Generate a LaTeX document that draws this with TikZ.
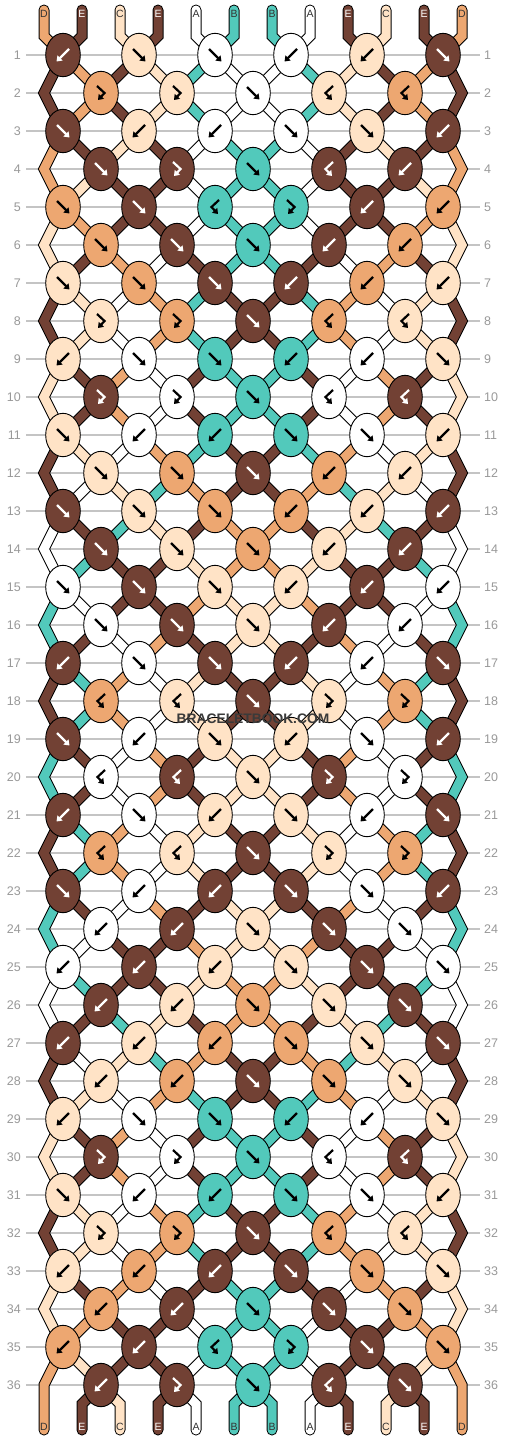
\documentclass[tikz,border=0pt]{standalone}
\usepackage{fontspec}
\setmainfont{Liberation Sans}
\usetikzlibrary{arrows.meta,shapes.geometric}
\definecolor{cA}{HTML}{FFFFFF}
\definecolor{cB}{HTML}{52C9BB}
\definecolor{cC}{HTML}{FFE3C6}
\definecolor{cD}{HTML}{EDA771}
\definecolor{cE}{HTML}{724134}
\definecolor{rowgray}{HTML}{999999}
\definecolor{linegray}{HTML}{C4C4C4}
\definecolor{lbldark}{HTML}{333333}
\definecolor{wmgray}{HTML}{3A3A3A}

\newcommand\defrow[2]{\foreach \myc [count=\myp] in {#2}{\expandafter\xdef\csname s#1-\myp\endcsname{\myc}}}
\newcommand\defknots[2]{\foreach \myc [count=\myp] in {#2}{\expandafter\xdef\csname k#1-\myp\endcsname{\myc}}}

\defrow{0}{D,E,C,E,A,B,B,A,E,C,E,D}
\defrow{1}{E,D,E,C,B,A,A,B,C,E,D,E}
\defrow{2}{E,D,E,C,B,A,A,B,C,E,D,E}
\defrow{3}{D,E,C,E,A,B,B,A,E,C,E,D}
\defrow{4}{D,C,E,E,A,B,B,A,E,E,C,D}
\defrow{5}{C,D,E,E,A,B,B,A,E,E,D,C}
\defrow{6}{C,E,D,A,E,B,B,E,A,D,E,C}
\defrow{7}{E,C,A,D,B,E,E,B,D,A,C,E}
\defrow{8}{E,C,A,D,B,E,E,B,D,A,C,E}
\defrow{9}{C,E,D,A,E,B,B,E,A,D,E,C}
\defrow{10}{C,E,D,A,E,B,B,E,A,D,E,C}
\defrow{11}{E,C,A,D,B,E,E,B,D,A,C,E}
\defrow{12}{E,A,C,B,D,E,E,D,B,C,A,E}
\defrow{13}{A,E,B,C,E,D,D,E,C,B,E,A}
\defrow{14}{A,B,E,E,C,D,D,C,E,E,B,A}
\defrow{15}{B,A,E,E,D,C,C,D,E,E,A,B}
\defrow{16}{B,E,A,D,E,C,C,E,D,A,E,B}
\defrow{17}{E,B,D,A,C,E,E,C,A,D,B,E}
\defrow{18}{E,B,D,A,C,E,E,C,A,D,B,E}
\defrow{19}{B,E,A,D,E,C,C,E,D,A,E,B}
\defrow{20}{B,E,A,D,E,C,C,E,D,A,E,B}
\defrow{21}{E,B,D,A,C,E,E,C,A,D,B,E}
\defrow{22}{E,B,D,A,C,E,E,C,A,D,B,E}
\defrow{23}{B,E,A,D,E,C,C,E,D,A,E,B}
\defrow{24}{B,A,E,E,D,C,C,D,E,E,A,B}
\defrow{25}{A,B,E,E,C,D,D,C,E,E,B,A}
\defrow{26}{A,E,B,C,E,D,D,E,C,B,E,A}
\defrow{27}{E,A,C,B,D,E,E,D,B,C,A,E}
\defrow{28}{E,C,A,D,B,E,E,B,D,A,C,E}
\defrow{29}{C,E,D,A,E,B,B,E,A,D,E,C}
\defrow{30}{C,E,D,A,E,B,B,E,A,D,E,C}
\defrow{31}{E,C,A,D,B,E,E,B,D,A,C,E}
\defrow{32}{E,C,A,D,B,E,E,B,D,A,C,E}
\defrow{33}{C,E,D,A,E,B,B,E,A,D,E,C}
\defrow{34}{C,D,E,E,A,B,B,A,E,E,D,C}
\defrow{35}{D,C,E,E,A,B,B,A,E,E,C,D}
\defrow{36}{D,E,C,E,A,B,B,A,E,C,E,D}

% knot types: 1 forward, 2 backward, 3 forward-backward, 4 backward-forward
\defknots{1}{2,1,1,2,2,1}
\defknots{2}{3,3,1,4,4}
\defknots{3}{1,2,2,1,1,2}
\defknots{4}{1,3,1,4,2}
\defknots{5}{1,1,4,3,2,2}
\defknots{6}{1,1,1,2,2}
\defknots{7}{1,1,1,2,2,2}
\defknots{8}{3,3,1,4,4}
\defknots{9}{2,1,1,2,2,1}
\defknots{10}{3,3,1,4,4}
\defknots{11}{1,2,2,1,1,2}
\defknots{12}{1,1,1,2,2}
\defknots{13}{1,1,1,2,2,2}
\defknots{14}{1,1,1,2,2}
\defknots{15}{1,1,1,2,2,2}
\defknots{16}{1,1,1,2,2}
\defknots{17}{2,1,1,2,2,1}
\defknots{18}{4,4,1,3,3}
\defknots{19}{1,2,1,2,1,2}
\defknots{20}{4,4,1,3,3}
\defknots{21}{2,1,2,1,2,1}
\defknots{22}{4,4,1,3,3}
\defknots{23}{1,2,2,1,1,2}
\defknots{24}{2,2,1,1,1}
\defknots{25}{2,2,2,1,1,1}
\defknots{26}{2,2,1,1,1}
\defknots{27}{2,2,2,1,1,1}
\defknots{28}{2,2,1,1,1}
\defknots{29}{2,1,1,2,2,1}
\defknots{30}{3,3,1,4,4}
\defknots{31}{1,2,2,1,1,2}
\defknots{32}{3,3,1,4,4}
\defknots{33}{2,2,2,1,1,1}
\defknots{34}{2,2,1,1,1}
\defknots{35}{2,2,4,3,1,1}
\defknots{36}{2,3,1,4,1}

\newcommand\drawsegs[1]{%
 \foreach \PP in {1,...,12}{%
   \edef\col{c\csname s0-\PP\endcsname}%
   \draw[seg#1=\col] (Tt-\PP) -- (T-\PP) -- (P-1-\PP);
 }%
 \foreach \RR in {1,...,36}{%
  \foreach \PP in {1,...,12}{%
   \pgfmathtruncatemacro\RA{\RR+1}%
   \pgfmathtruncatemacro\RB{\RR+2}%
   \edef\col{c\csname s\RR-\PP\endcsname}%
   \ifnum\PP=1 \def\isedge{1}\else\ifnum\PP=12 \def\isedge{1}\else\def\isedge{0}\fi\fi
   \ifnum\isedge=1
     \ifodd\RR
       \ifnum\RR=35
         \draw[seg#1=\col] (P-\RR-\PP) -- (P-\RA-\PP) -- (Bb-\PP);
       \else
         \draw[seg#1=\col] (P-\RR-\PP) -- (P-\RA-\PP) -- (P-\RB-\PP);
       \fi
     \fi
   \else
     \ifnum\RR=36
       \draw[seg#1=\col] (P-\RR-\PP) -- (B-\PP) -- (Bb-\PP);
     \else
       \draw[seg#1=\col] (P-\RR-\PP) -- (P-\RA-\PP);
     \fi
   \fi
  }}}

\begin{document}
\begin{tikzpicture}[x=1pt,y=-1pt,
  seg0/.style={line width=11pt,draw=black,line cap=round,line join=miter},
  seg1/.style={line width=9pt,draw=#1,line cap=round,line join=miter},
  knot/.style={ellipse,draw=black,line width=0.9pt,minimum width=34.6pt,minimum height=43.4pt,inner sep=0pt},
  arr/.style={line width=2.2pt,-{Triangle[length=5pt,width=7pt]}},
  rowlbl/.style={text=rowgray,font=\fontsize{12.5}{14}\selectfont,inner sep=0pt},
  strlbl/.style={font=\fontsize{10.5}{12}\selectfont,inner sep=0pt}
]
\useasboundingbox (0,0) rectangle (506,1440);
\fill[white] (0,0) rectangle (506,1440);

% string positions
\foreach \RR in {1,...,36}{
  \pgfmathsetmacro\yy{55+38*(\RR-1)}
  \foreach \PP in {1,...,12}{
    \ifodd\RR
      \pgfmathsetmacro\xx{63+76*floor((\PP-1)/2)}
    \else
      \ifnum\PP=1 \def\xx{44}\else\ifnum\PP=12 \def\xx{462}\else
        \pgfmathsetmacro\xx{25+76*floor(\PP/2)}\fi\fi
    \fi
    \coordinate (P-\RR-\PP) at (\xx,\yy);
  }
}
\foreach \PP in {1,...,12}{
  \pgfmathsetmacro\xx{44+38*(\PP-1)}
  \coordinate (Tt-\PP) at (\xx,10);
  \coordinate (T-\PP) at (\xx,36);
  \coordinate (B-\PP) at (\xx,1404);
  \coordinate (Bb-\PP) at (\xx,1430);
}

% row guide lines and numbers
\foreach \RR in {1,...,36}{
  \pgfmathsetmacro\yy{55+38*(\RR-1)}
  \draw[linegray,line width=1.1pt] (26,\yy) -- (480,\yy);
  \node[rowlbl,anchor=east] (rl-\RR) at (21,\yy) {\RR};
  \node[rowlbl,anchor=west] (rr-\RR) at (484,\yy) {\RR};
}

% strings
\drawsegs{0}
\drawsegs{1}

% knots
\foreach \RR in {1,...,36}{
  \pgfmathtruncatemacro\RP{\RR-1}
  \ifodd\RR \def\NK{6}\else\def\NK{5}\fi
  \foreach \JJ in {1,...,\NK}{
    \ifodd\RR \pgfmathtruncatemacro\LP{2*\JJ-1}\else\pgfmathtruncatemacro\LP{2*\JJ}\fi
    \pgfmathtruncatemacro\RPP{\LP+1}
    \edef\KT{\csname k\RR-\JJ\endcsname}
    \ifodd\KT\relax \edef\KC{\csname s\RP-\LP\endcsname}\else\edef\KC{\csname s\RP-\RPP\endcsname}\fi
    \if E\KC \def\AC{white}\else\def\AC{black}\fi
    \node[knot,fill=c\KC] (K-\RR-\JJ) at (P-\RR-\LP) {};
    \ifcase\KT\or
      \draw[arr,draw=\AC] ([shift={(-6,-6)}]K-\RR-\JJ.center) -- ([shift={(6.5,6.5)}]K-\RR-\JJ.center);
    \or
      \draw[arr,draw=\AC] ([shift={(6,-6)}]K-\RR-\JJ.center) -- ([shift={(-6.5,6.5)}]K-\RR-\JJ.center);
    \or
      \draw[arr,draw=\AC,line join=miter] ([shift={(-4,-7)}]K-\RR-\JJ.center) -- ([shift={(3.5,0)}]K-\RR-\JJ.center) -- ([shift={(-3,7)}]K-\RR-\JJ.center);
    \or
      \draw[arr,draw=\AC,line join=miter] ([shift={(4,-7)}]K-\RR-\JJ.center) -- ([shift={(-3.5,0)}]K-\RR-\JJ.center) -- ([shift={(3,7)}]K-\RR-\JJ.center);
    \fi
  }
}

% string letters
\foreach \PP in {1,...,12}{
  \pgfmathsetmacro\xx{44+38*(\PP-1)}
  \edef\lc{\csname s0-\PP\endcsname}
  \if E\lc \def\tc{white}\else\def\tc{lbldark}\fi
  \node[strlbl,text=\tc] (lt-\PP) at (\xx,14) {\lc};
  \edef\lc{\csname s36-\PP\endcsname}
  \if E\lc \def\tc{white}\else\def\tc{lbldark}\fi
  \node[strlbl,text=\tc] (lb-\PP) at (\xx,1427) {\lc};
}

\node[font=\bfseries\fontsize{13.8}{15}\selectfont,text=wmgray,inner sep=0pt] (wm) at (253,719) {BRACELETBOOK.COM};
\end{tikzpicture}
\end{document}
